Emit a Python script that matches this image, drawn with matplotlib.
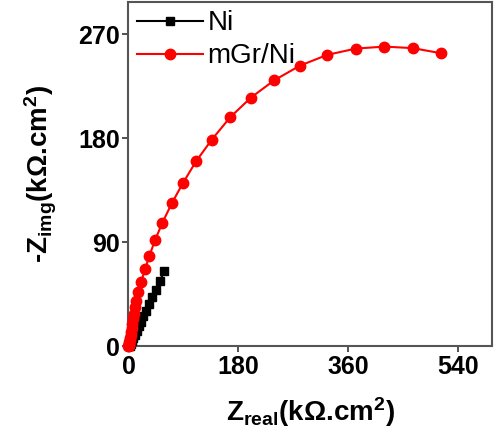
import matplotlib
matplotlib.use("Agg")
import matplotlib.pyplot as plt

plt.rcParams['font.family'] = ['Liberation Sans', 'DejaVu Sans']
plt.rcParams['mathtext.fontset'] = 'custom'
plt.rcParams['mathtext.rm'] = 'Liberation Sans:bold'
plt.rcParams['mathtext.bf'] = 'Liberation Sans:bold'
plt.rcParams['mathtext.it'] = 'Liberation Sans:bold'

# Data
ni_x = [0.5, 2.0, 4.0, 6.0, 8.0, 10.5, 13.5, 16.5, 20.0, 24.0, 28.5, 33.5, 39.0, 45.0, 51.5, 58.4]
ni_y = [0.0, 0.8, 2.5, 4.5, 7.0, 10.0, 13.5, 17.5, 21.5, 26.0, 31.0, 36.5, 42.5, 49.0, 56.5, 65.1]

mgr_x = [0.0, 0.2, 0.5, 0.9, 1.4, 2.0, 2.7, 3.5, 4.4, 5.4, 6.6, 8.0, 9.5, 11.0, 12.6,
         16.4, 20.8, 27.3, 34.4, 43.7, 55.6, 71.0, 89.0, 110.8, 136.5, 166.4, 200.4,
         238.4, 280.9, 325.6, 372.1, 418.9, 465.3, 511.2]
mgr_y = [0.0, 0.5, 1.3, 2.4, 3.8, 5.5, 7.6, 10.0, 12.7, 15.8, 19.5, 23.8, 28.5, 33.8, 39.6,
         47.4, 56.1, 67.1, 78.6, 92.2, 107.1, 123.9, 141.2, 160.3, 179.0, 198.2, 215.3,
         230.2, 243.0, 252.3, 257.7, 259.4, 258.1, 253.7]

xticks = [0, 180, 360, 540]
yticks = [0, 90, 180, 270]

fig = plt.figure(figsize=(4.94, 4.41), dpi=100)
ax = fig.add_axes([0.260, 0.2143, 0.736, 0.7812])

ax.plot(ni_x, ni_y, color='black', marker='s', markersize=6, linewidth=1.5,
        label='Ni', clip_on=False, zorder=3)
ax.plot(mgr_x, mgr_y, color='#ff0000', marker='o', markersize=7.5, linewidth=1.5,
        label='mGr/Ni', clip_on=False, zorder=4)

ax.set_xlim(0, 595)
ax.set_ylim(0, 298)
ax.set_xticks(xticks)
ax.set_yticks(yticks)
ax.set_xticklabels([str(t) for t in xticks], fontsize=18, fontweight='bold')
ax.set_yticklabels([str(t) for t in yticks], fontsize=18, fontweight='bold')
ax.tick_params(direction='out', length=4, width=1.2, color='#333333', pad=2)

for s in ax.spines.values():
    s.set_color('#555555')
    s.set_linewidth(1.5)

ax.set_xlabel('Z$_{\\mathrm{real}}$(k\u03a9.cm$^{\\mathrm{2}}$)', fontsize=20,
              fontweight='bold', labelpad=12)
ax.set_ylabel('-Z$_{\\mathrm{img}}$(k\u03a9.cm$^{\\mathrm{2}}$)', fontsize=20,
              fontweight='bold', labelpad=14)

leg = ax.legend(loc='upper left', frameon=False, fontsize=20, handlelength=2.4,
                borderaxespad=0.2, handletextpad=0.15, labelspacing=0.25,
                borderpad=0.1)

fig.savefig('out.png', dpi=100)
